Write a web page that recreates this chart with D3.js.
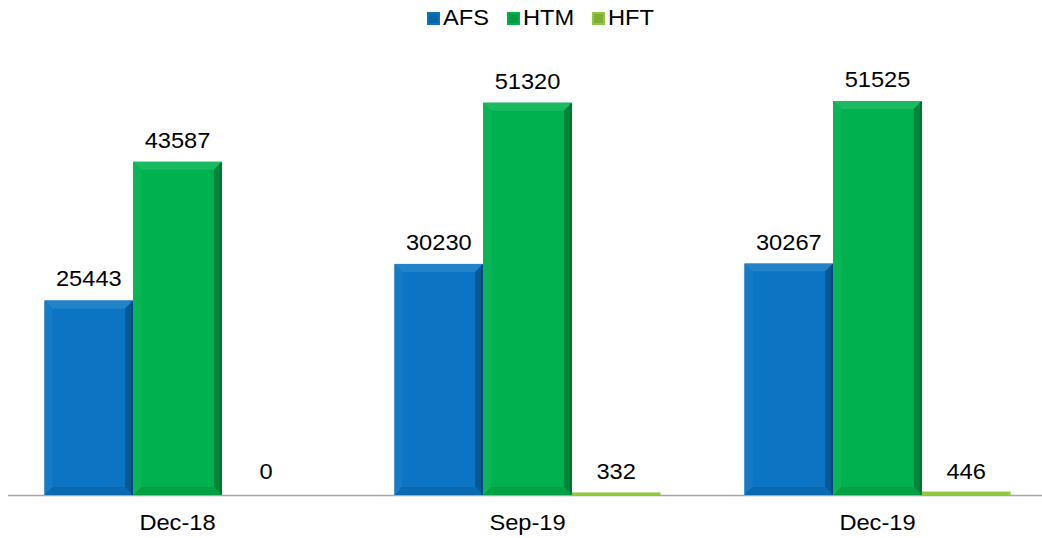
<!DOCTYPE html>
<html><head><meta charset="utf-8">
<script src="https://cdn.jsdelivr.net/npm/d3@7"></script>
<style>body{margin:0;background:#fff}svg{display:block;font-family:"Liberation Sans",Arial,sans-serif}</style>
</head><body><svg id="c" width="1042" height="538"></svg>
<script>
const categories = ["Dec-18", "Sep-19", "Dec-19"];
const seriesNames = ["AFS", "HTM", "HFT"];
const afsValues = [25443, 30230, 30267];
const htmValues = [43587, 51320, 51525];
const hftValues = [0, 332, 446];
const seriesColors = ["#0B75C3", "#00B24F", "#92C83E"];

const svg = d3.select("#c");
const seriesValues = [afsValues, htmValues, hftValues];
const FS = 21.5, SX = 1.1;

const x = d3.scaleBand().domain(categories).range([2.5, 1052.5]).paddingInner(0.24).paddingOuter(0.12);
const xs = d3.scaleBand().domain(seriesNames).range([0, x.bandwidth()]);
const y = d3.scaleLinear().domain([0, 60000]).range([495, 36.3]);

// category axis (labels only)
const xAxis = d3.axisBottom(x).tickSize(0).tickPadding(0);
const ax = svg.append("g").attr("transform", `translate(0,${y(0)})`).call(xAxis);
ax.select(".domain").remove();
ax.selectAll("text").attr("font-size", FS).attr("fill", "#000").attr("dy", null)
  .attr("y", 0).attr("font-family", "Liberation Sans, Arial, sans-serif")
  .attr("transform", `translate(0,35) scale(${SX},1)`);

svg.append("line").attr("x1", 8).attr("x2", 1042).attr("y1", y(0) + 0.5).attr("y2", y(0) + 0.5)
  .attr("stroke", "#a6a6a6").attr("stroke-width", 1.5);

const data = [];
categories.forEach((c, i) => seriesNames.forEach((s, j) => data.push({cat: c, ser: s, val: seriesValues[j][i], color: seriesColors[j]})));

const bars = svg.append("g").selectAll("g").data(data).join("g");
bars.each(function(d) {
  const g = d3.select(this);
  const x0 = x(d.cat) + xs(d.ser), w = xs.bandwidth();
  const y0 = y(d.val), h = y(0) - y0;
  if (h <= 0) return;
  const c = d3.color(d.color);
  g.append("rect").attr("x", x0).attr("y", y0).attr("width", w).attr("height", h).attr("fill", d.color);
  const b = Math.min(8, h / 2, w / 2);
  if (h < 6) return;
  const x1 = x0 + w, y1 = y0 + h;
  g.append("polygon").attr("points", [[x0,y0],[x1,y0],[x1-b,y0+b],[x0+b,y0+b]].join(" "))
    .attr("fill", d3.interpolateRgb(d.color, "#ffffff")(0.1));
  g.append("polygon").attr("points", [[x0,y0],[x0+b,y0+b],[x0+b,y1-b],[x0,y1]].join(" "))
    .attr("fill", d3.interpolateRgb(d.color, "#ffffff")(0.04));
  g.append("polygon").attr("points", [[x1,y0],[x1,y1],[x1-b,y1-b],[x1-b,y0+b]].join(" "))
    .attr("fill", c.darker(0.8));
  g.append("polygon").attr("points", [[x0,y1],[x0+b,y1-b],[x1-b,y1-b],[x1,y1]].join(" "))
    .attr("fill", c.darker(0.3));
  g.append("rect").attr("x", x1 - 2).attr("y", y0 + 1).attr("width", 2).attr("height", h - 1)
    .attr("fill", c.darker(1.6)).attr("opacity", 0.7);
});

// value labels
svg.append("g").selectAll("text").data(data).join("text")
  .attr("transform", d => `translate(${x(d.cat) + xs(d.ser) + xs.bandwidth() / 2},${d.ser === "HFT" ? y(0) - 16 : y(d.val) - 14}) scale(${SX},1)`)
  .attr("text-anchor", "middle").attr("font-size", FS).attr("fill", "#000")
  .text(d => d.val);

// legend
const legendX = [427, 507, 592];
const lg = svg.append("g").selectAll("g").data(seriesNames).join("g")
  .attr("transform", (d, i) => `translate(${legendX[i]},0)`);
lg.append("rect").attr("x", 0).attr("y", 12).attr("width", 13).attr("height", 13)
  .attr("fill", (d, i) => seriesColors[i]);
lg.append("rect").attr("x", 2).attr("y", 14).attr("width", 9).attr("height", 9)
  .attr("fill", (d, i) => d3.color(seriesColors[i]).darker(0.4));
lg.append("text").attr("transform", `translate(16,25) scale(${SX},1)`).attr("font-size", FS).attr("fill", "#000").text(d => d);
</script></body></html>
